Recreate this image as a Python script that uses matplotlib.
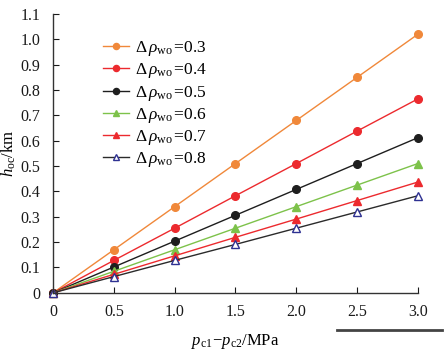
import matplotlib
matplotlib.use('Agg')
import matplotlib.pyplot as plt
from matplotlib.lines import Line2D

plt.rcParams['font.family'] = ['Liberation Serif', 'DejaVu Serif']
plt.rcParams['mathtext.fontset'] = 'custom'
plt.rcParams['mathtext.rm'] = 'Liberation Serif'
plt.rcParams['mathtext.it'] = 'Liberation Serif:italic'

dp = [0.5 * i for i in range(7)]
x_labels = ['0', '0.5', '1.0', '1.5', '2.0', '2.5', '3.0']
y_ticks = [0.1 * i for i in range(12)]
y_labels = ['0'] + ['%.1f' % v for v in y_ticks[1:]]

rho = ['0.3', '0.4', '0.5', '0.6', '0.7', '0.8']
h_03 = [0, 0.170, 0.340, 0.510, 0.680, 0.850, 1.020]
h_04 = [0, 0.128, 0.255, 0.383, 0.510, 0.638, 0.765]
h_05 = [0, 0.102, 0.204, 0.306, 0.408, 0.510, 0.612]
h_06 = [0, 0.085, 0.170, 0.255, 0.340, 0.425, 0.510]
h_07 = [0, 0.073, 0.146, 0.219, 0.291, 0.364, 0.437]
h_08 = [0, 0.064, 0.128, 0.191, 0.255, 0.319, 0.383]

series = [h_03, h_04, h_05, h_06, h_07, h_08]
colors = ['#F0883A', '#EC2A2E', '#1E1E1E', '#7DC24A', '#EC2A2E', '#2B2B2B']
markers = ['o', 'o', 'o', '^', '^', '^']
mface = ['#F0883A', '#EC2A2E', '#1E1E1E', '#7DC24A', '#EC2A2E', 'white']
medge = ['#F0883A', '#EC2A2E', '#1E1E1E', '#7DC24A', '#EC2A2E', '#2E3192']

fig = plt.figure(figsize=(4.46, 3.58), dpi=100)
ax = fig.add_axes([0.119, 0.182, 0.818, 0.779])

for i in range(6):
    ax.plot(dp, series[i], color=colors[i], lw=1.0, marker=markers[i],
            ms=5.5, mfc=mface[i], mec=medge[i], mew=1.0, clip_on=False,
            label=r'$\Delta\,\rho_{\rm wo}\,$=' + rho[i])

ax.set_xlim(0, 3.0)
ax.set_ylim(0, 1.1)
ax.set_xticks(dp)
ax.set_xticklabels(x_labels)
ax.set_yticks(y_ticks)
ax.set_yticklabels(y_labels)
ax.spines['top'].set_visible(False)
ax.spines['right'].set_visible(False)
for s in ['left', 'bottom']:
    ax.spines[s].set_linewidth(1.0)
    ax.spines[s].set_color('#333333')
ax.tick_params(direction='in', length=4, width=0.8, labelsize=11.5, colors='#1a1a1a')
ax.tick_params(axis='x', pad=8)
ax.tick_params(axis='y', pad=9)

ax.set_xlabel(r'$p_{\rm c1}\!-\!p_{\rm c2}$/MPa', fontsize=12, labelpad=9)
ax.set_ylabel(r'$h_{\rm oc}$/km', fontsize=12, labelpad=2)

ax.legend(loc='upper left', bbox_to_anchor=(0.095, 0.965), frameon=False,
          fontsize=12.5, handlelength=1.5, labelspacing=0.18, handletextpad=0.35,
          markerscale=0.8)

fig.add_artist(Line2D([0.755, 0.99], [0.079, 0.079], color='#444444', lw=2.0))

fig.savefig('out.png', dpi=100)
